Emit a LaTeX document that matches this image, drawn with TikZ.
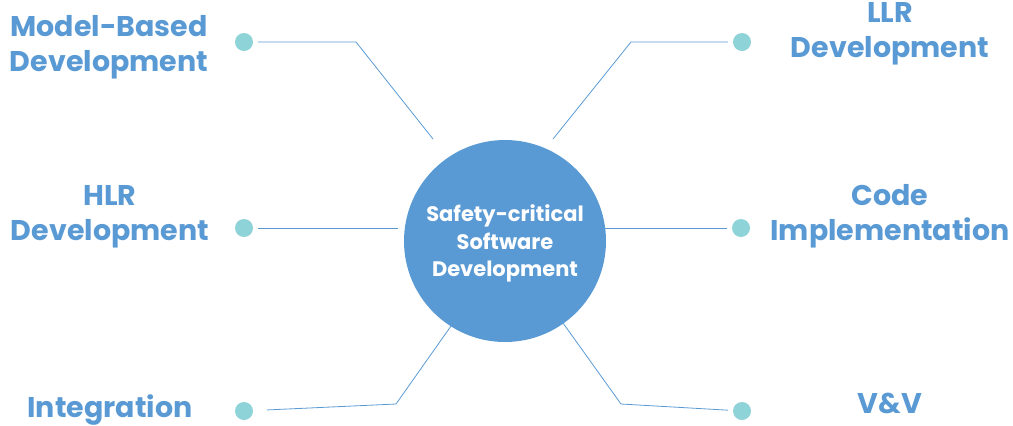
\documentclass[tikz,border=0pt]{standalone}
\usepackage{fontspec}
\setmainfont{Poppins}
\definecolor{hubblue}{HTML}{5A9AD4}
\definecolor{dotteal}{HTML}{8ED3D7}
\begin{document}
\begin{tikzpicture}[x=1bp,y=-1bp,
  hub/.style={circle,fill=hubblue,minimum size=202bp,inner sep=0pt,text=white,
    align=center,text depth=0pt,font=\fontsize{21bp}{27.5bp}\selectfont\bfseries},
  dot/.style={circle,fill=dotteal,minimum size=18bp,inner sep=0pt,outer sep=5bp},
  topic/.style={text=hubblue,align=center,inner sep=0pt,
    font=\fontsize{28.5bp}{35bp}\selectfont\bfseries},
  link/.style={draw=hubblue,line width=0.8bp},
]
  \useasboundingbox (0,0) rectangle (1013,425);
%%
  % Node: Hub
  \node[hub] (hub) at (505,241) {Safety-critical\\Software\\Development};
  % Node: Dots
  \node[dot] (dmbd) at (244,42) {};
  \node[dot] (dhlr) at (244,228) {};
  \node[dot] (dint) at (244,411) {};
  \node[dot] (dllr) at (742,42) {};
  \node[dot] (dcode) at (741,228) {};
  \node[dot] (dvv) at (742,411) {};
  % Node: Labels
  \node[topic] (mbd) at (109,47) {Model-Based\\Development};
  \node[topic] (hlr) at (110,217) {HLR\\Development};
  \node[topic] (int) at (110,409.5) {Integration};
  \node[topic] (llr) at (890,34) {LLR\\Development};
  \node[topic] (code) at (890,216) {Code\\Implementation};
  \node[topic] (vv) at (890,403) {V\&V};
  % Bends and ends
  \coordinate (bmbd) at (356,42);
  \coordinate (embd) at (433,139);
  \coordinate (ehlr) at (398,228);
  \coordinate (bint) at (396,404);
  \coordinate (eint) at (451,326);
  \coordinate (bllr) at (631,42);
  \coordinate (ellr) at (553,139);
  \coordinate (ecode) at (605,228);
  \coordinate (bvv) at (621,404);
  \coordinate (evv) at (563,323);
  % Edge: Model-Based -> Hub
  \draw[link] (dmbd) -- (bmbd) -- (embd);
  % Edge: HLR -> Hub
  \draw[link] (dhlr) -- (ehlr);
  % Edge: Integration -> Hub
  \draw[link,shorten <=9bp] (dint) -- (bint) -- (eint);
  % Edge: LLR -> Hub
  \draw[link] (dllr) -- (bllr) -- (ellr);
  % Edge: Code -> Hub
  \draw[link] (dcode) -- (ecode);
  % Edge: V&V -> Hub
  \draw[link] (dvv) -- (bvv) -- (evv);
%
\end{tikzpicture}
\end{document}
